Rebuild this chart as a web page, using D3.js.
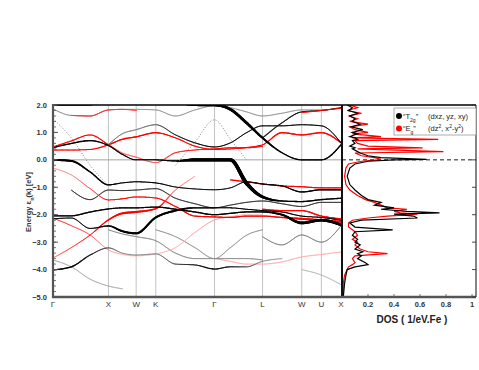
<!DOCTYPE html>
<html><head><meta charset="utf-8">
<script src="https://cdn.jsdelivr.net/npm/d3@7"></script>
<style>body{margin:0;background:#fff}svg{display:block;font-family:Arial,"Liberation Sans",sans-serif}</style>
</head><body>
<svg id="c" width="479" height="370"></svg>
<script>
// ---------- data ----------
const kLabels = ["Γ","X","W","K","Γ","L","W","U","X"];
const kTicks = [0,1,1.5,1.854,2.914,3.780,4.487,4.841,5.195];
const kSamples = [0,0.33,0.67,1,1.25,1.5,1.854,2.21,2.56,2.914,3.2,3.49,3.78,4.13,4.487,4.841,5.195];
const eTicks = [2,1,0,-1,-2,-3,-4,-5];
const dosTicks = [0.2,0.4,0.6,0.8,1];
const _ = null;

// band energies (eV) at kSamples, band weights and strengths
const bandTop  = [2.0,2.0,2.0,2.3,2.5,2.5,2.3,2.1,2.01,2.0,1.84,1.35,0.8,0.26,0.0,0.0,0.55];
const bandTopW = [1.5,1.5,1.5,1,1,1,1,2,3,3,3,3,2.5,1.8,1.8,1.8,2];
const bandGrey = [1.86,1.62,1.6,1.82,1.84,1.84,1.82,1.6,1.82,1.97,1.9,1.75,1.6,1.7,1.82,1.82,1.9];
const bandRedTop = [_,1.62,1.6,1.82,1.84,1.8,_,_,_,_,_,_,_,_,_,_,_];
const bandDot  = [1.5,0.8,-0.2,-0.95,_,_,_,-0.2,0.65,1.46,0.75,0.0,_,_,_,_,_];
const bandMid  = [0.44,0.6,0.7,0.52,0.2,0.0,0.0,-0.04,0.0,0.0,0.0,-0.85,-1.35,-1.5,-1.52,-1.45,-1.4];
const bandMidW = [1.5,2,2,1.5,1.5,1.5,1.5,2,3.5,3.5,3.5,3.8,3,2,2,2,2];
const bandR1   = [0.47,0.69,0.91,0.55,0.25,0.1,-0.1,0.26,0.36,0.4,0.44,0.44,0.5,_,_,_,_];
const bandR1A  = [1,1,1,1,0.6,0.6,0.6,0.8,0.9,1,1,1,1,1,1,1,1];
const bandR2   = [0.36,0.36,0.38,0.55,0.75,0.84,0.99,0.8,0.5,0.38,0.4,0.45,0.55,0.99,0.91,0.99,0.62];
const bandR2W  = [1.5,1.5,1.5,1.8,2,2,2,1.5,1.5,1.5,1.5,1.5,1.5,2,2,2,2];
const bandU    = [_,_,_,0.55,0.95,1.1,1.28,0.91,0.62,0.47,0.62,0.99,1.24,1.24,1.28,1.24,0.62];
const bandUA   = [1,1,1,0.6,0.5,0.5,0.6,0.9,1,1,1,1,1,1,1,1,1];
const bandHi   = [_,_,_,_,_,_,_,_,_,_,_,_,0.8,1.35,1.75,1.8,1.9];
const bandRHi  = [_,_,_,_,_,_,_,_,_,_,_,_,_,_,1.72,1.8,1.88];
const bandA    = [0.0,-0.04,-0.44,-0.91,-0.84,-0.8,-0.84,-0.99,-1.06,-1.09,-1.02,-0.8,-0.88,-0.95,-1.17,-1.09,-1.09];
const bandAW   = [2.5,2.5,2,2,1.5,1.5,1.5,1.2,1.2,1.2,1.2,1.2,1.5,1.5,2,2,2];
const bandB    = [_,-1.1,-1.45,-1.1,-1.12,-1.1,-1.05,-1.4,-1.6,-1.75,-1.65,-1.55,-1.5,-1.6,-1.7,-1.55,-1.55];
const bandRL   = [_,_,_,_,_,_,_,_,_,_,-0.73,-0.8,-0.88,-0.95,-0.98,-1.02,-1.02];
const bandRA   = [-0.3,-0.55,-1.05,-1.46,-1.42,-1.35,-1.39,-1.7,-2.05,-2.08,-2.1,-2.05,-2.05,-2.1,-2.15,-2.2,-2.26];
const bandRAW  = [1,1,1.2,1.5,1.5,1.5,1.5,1.5,1.8,1.8,1.8,1.8,1.8,2,2.5,2.5,2.5];
const bandRAA  = [0.4,0.5,0.7,0.9,1,1,1,1,1,1,1,1,1,1,1,1,1];
const bandC    = [-2.04,-2.04,-1.9,-1.79,-1.75,-1.75,-1.72,-1.8,-1.9,-2.0,-1.95,-1.9,-1.9,-2.0,-2.3,-2.2,-2.37];
const bandCW   = [2,2,2,1.8,1.8,1.8,1.8,2,2,2,2,2,2,2.5,3,3,3];
const bandD    = [-2.15,-2.12,-2.5,-2.41,-2.6,-2.68,-2.1,-1.85,-1.75,-1.75,-1.75,-1.8,-1.85,-1.9,-2.05,-2.1,-2.2];
const bandDW   = [1.3,1.3,1.3,2,2.5,2.5,2.5,2.5,2,1.5,1.5,1.5,1.5,1.5,1.5,1.5,1.5];
const bandRD   = [_,_,_,_,_,_,_,_,_,_,_,_,-1.8,-1.85,-1.85,-2.05,-2.15];
const bandRB   = [-2.12,-2.4,-2.74,-3.28,-3.45,-3.5,-3.43,-3.2,-2.65,-2.19,-2.08,-2.0,-2.0,_,_,_,_];
const bandRBA  = [0.9,0.8,0.7,0.4,0.3,0.3,0.3,0.3,0.35,0.4,0.4,0.3,0.3,0.3,0.3,0.3,0.3];
const bandRC   = [-3.58,-3.2,-2.74,-2.19,-1.95,-1.9,-1.78,-1.1,-0.6,_,_,_,_,_,_,_,_];
const bandRCW  = [1,1,1.3,2,2.5,2.5,2,1.2,1,1,1,1,1,1,1,1,1];
const bandRCA  = [0.6,0.8,0.9,1,1,1,1,0.6,0.4,0.4,0.4,0.4,0.4,0.4,0.4,0.4,0.4];
const bandE    = [-4.01,-3.9,-3.47,-3.21,-3.4,-3.47,-3.43,-3.8,-3.83,-3.98,-3.9,-3.9,-3.7,-3.6,_,_,_];
const bandEW   = [2,2,1.5,1.2,1,1,1,1.3,1.5,1.8,1.5,1.3,1,1,1,1,1];
const bandEA   = [1,1,0.9,0.7,0.5,0.5,0.5,0.7,0.9,1,0.9,0.7,0.5,0.4,0.4,0.4,0.4];
const bandF    = [_,_,_,-2.55,-2.7,-2.8,-2.95,-3.4,-3.6,-3.6,-3.6,-3.6,-3.65,_,_,_,_];
const bandG    = [_,_,_,_,_,_,-2.55,-2.8,-3.2,-3.6,-3.2,-2.75,-2.55,_,_,_,_];
const bandG2   = [_,_,_,_,_,_,_,_,_,_,_,_,-2.8,-3.1,-2.74,-3.0,-2.4];
const bandP    = [_,_,_,_,_,_,_,_,_,-3.6,-3.7,-3.8,-3.8,-3.72,-3.54,-3.45,-3.36];
const bandGL   = [-3.65,-3.9,-4.35,-4.6,-4.7,_,_,_,_,_,_,_,_,_,_,_,_];
const bandGL2  = [_,_,_,_,_,_,_,_,_,_,_,_,_,_,-4.0,-4.2,-4.55];

// DOS (states / eV.Fe) vs energy
const dosE   = [2.0,1.9,1.8,1.7,1.6,1.5,1.4,1.3,1.2,1.1,1.0,0.95,0.85,0.8,0.75,0.7,0.6,0.5,0.44,0.4,0.3,0.25,0.15,0.08,0.02,0.0,-0.05,-0.15,-0.3,-0.6,-0.9,-1.1,-1.3,-1.45,-1.55,-1.65,-1.75,-1.8,-1.88,-1.93,-1.98,-2.05,-2.12,-2.2,-2.3,-2.45,-2.55,-2.62,-2.75,-2.9,-3.0,-3.1,-3.25,-3.35,-3.42,-3.5,-3.6,-3.75,-3.82,-3.9,-4.0,-4.2,-4.5,-5.0];
const dosT2g = [0.04,0.08,0.05,0.12,0.06,0.1,0.08,0.14,0.07,0.16,0.08,0.12,0.06,0.1,0.12,0.08,0.1,0.06,0.1,0.08,0.12,0.14,0.2,0.3,0.65,0.4,0.2,0.1,0.06,0.04,0.06,0.1,0.15,0.2,0.3,0.25,0.4,0.3,0.5,0.75,0.4,0.55,0.58,0.15,0.06,0.1,0.39,0.1,0.08,0.12,0.1,0.14,0.1,0.16,0.12,0.15,0.12,0.18,0.2,0.1,0.04,0.03,0.02,0.01];
const dosEg  = [0.06,0.12,0.04,0.15,0.05,0.12,0.06,0.2,0.06,0.1,0.2,0.08,0.3,0.08,0.74,0.1,0.12,0.2,0.62,0.12,0.78,0.1,0.15,0.25,0.3,0.28,0.15,0.05,0.03,0.02,0.03,0.06,0.12,0.18,0.25,0.3,0.35,0.5,0.4,0.45,0.58,0.35,0.2,0.08,0.05,0.05,0.08,0.1,0.12,0.08,0.12,0.1,0.14,0.2,0.35,0.1,0.08,0.1,0.08,0.05,0.04,0.02,0.01,0.01];

const BLACK = "#000", RED = "#f00";
const bands = [
  {e: bandGL, w: 1, c: BLACK, a: 0.35},
  {e: bandGL2, w: 1, c: BLACK, a: 0.3},
  {e: bandP, w: 1, c: RED, a: 0.35},
  {e: bandF, w: 1, c: BLACK, a: 0.5},
  {e: bandG, w: 1, c: BLACK, a: 0.45},
  {e: bandG2, w: 1, c: BLACK, a: 0.55},
  {e: bandRB, w: 1, c: RED, a: bandRBA},
  {e: bandE, w: bandEW, c: BLACK, a: bandEA},
  {e: bandGrey, w: 1, c: BLACK, a: 0.45},
  {e: bandRedTop, w: 1.2, c: RED, a: 0.8},
  {e: bandB, w: 1.3, c: BLACK, a: 0.8},
  {e: bandRL, w: 1.8, c: RED, a: 1},
  {e: bandRA, w: bandRAW, c: RED, a: bandRAA},
  {e: bandRD, w: 2, c: RED, a: 1},
  {e: bandRC, w: bandRCW, c: RED, a: bandRCA},
  {e: bandD, w: bandDW, c: BLACK, a: 1},
  {e: bandC, w: bandCW, c: BLACK, a: 1},
  {e: bandA, w: bandAW, c: BLACK, a: 1},
  {e: bandR1, w: 1.5, c: RED, a: bandR1A},
  {e: bandR2, w: bandR2W, c: RED, a: 1},
  {e: bandU, w: 1.3, c: BLACK, a: bandUA},
  {e: bandHi, w: 1.5, c: BLACK, a: 0.9},
  {e: bandRHi, w: 1.2, c: RED, a: 1},
  {e: bandMid, w: bandMidW, c: BLACK, a: 1},
  {e: bandTop, w: bandTopW, c: BLACK, a: 1}
];

// ---------- layout ----------
const svg = d3.select("#c");
const L = 53, R = 342, T = 105, B = 297, DR = 476;
const x = d3.scaleLinear().domain([0, 5.195]).range([L, R - 1]);
const y = d3.scaleLinear().domain([-5, 2]).range([B, T]);
const xd = d3.scaleLinear().domain([0, 1]).range([R, 472]);
const strokeOf = d3.scaleLinear().domain([1, 2, 3.5]).range([0.75, 1.3, 3.4]).clamp(false);

const defs = svg.append("defs");
defs.append("clipPath").attr("id","cm").append("rect").attr("x",L).attr("y",T).attr("width",R-L).attr("height",B-T);
defs.append("clipPath").attr("id","cd").append("rect").attr("x",R).attr("y",T).attr("width",DR-R).attr("height",B-T);

// grid
const grid = svg.append("g");
grid.selectAll("line.v").data(kTicks.slice(1,-1)).join("line")
  .attr("x1",d=>x(d)).attr("x2",d=>x(d)).attr("y1",T).attr("y2",B)
  .attr("stroke","#bcbcbc").attr("stroke-width",0.9);
grid.append("line").attr("x1",L).attr("x2",R).attr("y1",y(0)).attr("y2",y(0)).attr("stroke","#9a9a9a").attr("stroke-width",0.9);

// bands
const gb = svg.append("g").attr("clip-path","url(#cm)");
function arr(v,i){ return Array.isArray(v) ? v[i] : v; }
bands.forEach(b => {
  const pts = kSamples.map((k,i)=>({k, e:b.e[i], w:arr(b.w,i), a:arr(b.a,i)}));
  const runs = []; let cur = [];
  pts.forEach(p => { if (p.e == null) { if (cur.length > 1) runs.push(cur); cur = []; } else cur.push(p); });
  if (cur.length > 1) runs.push(cur);
  runs.forEach(run => {
    const line = d3.line().x(p=>x(p.k)).y(p=>y(p.e)).curve(d3.curveMonotoneX);
    const tmp = gb.append("path").attr("d", line(run)).attr("fill","none").attr("stroke","none");
    const node = tmp.node(); const len = node.getTotalLength();
    const xs = run.map(p=>x(p.k));
    const wS = d3.scaleLinear().domain(xs).range(run.map(p=>strokeOf(p.w))).clamp(true);
    const aS = d3.scaleLinear().domain(xs).range(run.map(p=>p.a)).clamp(true);
    const segs = [];
    let prev = node.getPointAtLength(0);
    for (let s = 1.2; s < len + 1.2; s += 1.2) {
      const q = node.getPointAtLength(Math.min(s, len));
      segs.push({x1:prev.x, y1:prev.y, x2:q.x, y2:q.y, m:(prev.x+q.x)/2});
      prev = q;
    }
    tmp.remove();
    gb.append("g").selectAll("line").data(segs).join("line")
      .attr("x1",d=>d.x1).attr("y1",d=>d.y1).attr("x2",d=>d.x2).attr("y2",d=>d.y2)
      .attr("stroke",d=>d3.interpolateRgb("#ffffff", b.c)(aS(d.m)))
      .attr("stroke-width",d=>wS(d.m)).attr("stroke-linecap","round");
  });
});
// dotted band
{
  const pts = kSamples.map((k,i)=>({k, e:bandDot[i]}));
  const line = d3.line().defined(p=>p.e!=null).x(p=>x(p.k)).y(p=>y(p.e)).curve(d3.curveMonotoneX);
  gb.append("path").attr("d", line(pts)).attr("fill","none").attr("stroke","#777")
    .attr("stroke-width",0.9).attr("stroke-dasharray","1,1.8");
}

// DOS
const gd = svg.append("g").attr("clip-path","url(#cd)");
gd.append("line").attr("x1",R).attr("x2",DR).attr("y1",y(0)).attr("y2",y(0))
  .attr("stroke","#000").attr("stroke-width",0.9).attr("stroke-dasharray","4,3");
const dl = (vals) => d3.line().x((d,i)=>xd(vals[i])).y((d,i)=>y(dosE[i]))(dosE);
gd.append("path").attr("d", dl(dosEg)).attr("fill","none").attr("stroke",RED).attr("stroke-width",1.2);
gd.append("path").attr("d", dl(dosT2g)).attr("fill","none").attr("stroke",BLACK).attr("stroke-width",1.2);

// frame
svg.append("line").attr("x1",L).attr("x2",DR).attr("y1",T).attr("y2",T).attr("stroke","#000").attr("stroke-width",1.5);
svg.append("line").attr("x1",DR).attr("x2",DR).attr("y1",T).attr("y2",B).attr("stroke","#333").attr("stroke-width",1.2);
svg.append("line").attr("x1",R).attr("x2",R).attr("y1",T).attr("y2",B).attr("stroke","#111").attr("stroke-width",2);
svg.append("line").attr("x1",L).attr("x2",L).attr("y1",T-1).attr("y2",B+1).attr("stroke","#555").attr("stroke-width",2.2);
svg.append("line").attr("x1",L-1).attr("x2",DR).attr("y1",B).attr("y2",B).attr("stroke","#555").attr("stroke-width",2.4);

// y ticks
const minor = d3.range(-5, 2.001, 0.2);
svg.append("g").selectAll("line").data(minor).join("line")
  .attr("x1",L).attr("x2",L+3).attr("y1",d=>y(d)).attr("y2",d=>y(d)).attr("stroke","#555").attr("stroke-width",0.8);
svg.append("g").selectAll("line").data(eTicks).join("line")
  .attr("x1",L).attr("x2",L+5).attr("y1",d=>y(d)).attr("y2",d=>y(d)).attr("stroke","#555").attr("stroke-width",1);
svg.append("g").selectAll("line").data(eTicks).join("line")
  .attr("x1",DR-4).attr("x2",DR).attr("y1",d=>y(d)).attr("y2",d=>y(d)).attr("stroke","#333").attr("stroke-width",0.9);
svg.append("g").selectAll("text").data(eTicks).join("text")
  .attr("x",L-6).attr("y",d=>y(d)).attr("dy","0.35em").attr("text-anchor","end")
  .attr("font-size",7.5).attr("font-weight","bold").attr("fill","#333")
  .text(d=>d3.format(".1f")(d));

// x labels
svg.append("g").selectAll("text").data(kTicks).join("text")
  .attr("x",(d)=>x(d)).attr("y",307).attr("text-anchor","middle")
  .attr("font-size",8).attr("fill","#333").text((d,i)=>kLabels[i]);
svg.append("g").selectAll("line").data(dosTicks).join("line")
  .attr("x1",d=>xd(d)).attr("x2",d=>xd(d)).attr("y1",B-3).attr("y2",B).attr("stroke","#555").attr("stroke-width",0.8);
svg.append("g").selectAll("text").data(dosTicks).join("text")
  .attr("x",d=>xd(d)).attr("y",307).attr("text-anchor","middle")
  .attr("font-size",7.5).attr("font-weight","bold").attr("fill","#333").text(d=>d3.format("~g")(d));
svg.append("text").attr("x",412).attr("y",323).attr("text-anchor","middle")
  .attr("font-size",10).attr("font-weight","bold").attr("fill","#222").text("DOS ( 1/eV.Fe )");

// y label
const yl = svg.append("text").attr("transform","translate(31,202) rotate(-90)").attr("text-anchor","middle")
  .attr("font-size",7.5).attr("font-weight","bold").attr("fill","#333");
yl.append("tspan").text("Energy  ε");
yl.append("tspan").attr("font-size",5.5).attr("baseline-shift","sub").text("n");
yl.append("tspan").text("(k)  [eV]");

// legend
const lg = svg.append("g");
lg.append("rect").attr("x",394).attr("y",108).attr("width",82).attr("height",27).attr("fill","#fff").attr("stroke","#999").attr("stroke-width",0.8);
const items = [{c:BLACK, a:"“T", s:"2g", b:"”", d:"(dxz, yz, xy)"},{c:RED, a:"“E", s:"g", b:"”", d:null}];
items.forEach((it,i) => {
  const yy = 116 + i*12.5;
  lg.append("circle").attr("cx",399).attr("cy",yy).attr("r",3).attr("fill",it.c);
  const t = lg.append("text").attr("x",403).attr("y",yy).attr("dy","0.35em").attr("font-size",7.5).attr("fill","#222");
  t.append("tspan").text(it.a);
  t.append("tspan").attr("font-size",5).attr("baseline-shift","sub").text(it.s);
  t.append("tspan").text(it.b);
  const t2 = lg.append("text").attr("x",428).attr("y",yy).attr("dy","0.35em").attr("font-size",7.5).attr("fill","#222");
  if (it.d) t2.text(it.d);
  else {
    t2.append("tspan").text("(dz");
    t2.append("tspan").attr("font-size",5).attr("baseline-shift","super").text("2");
    t2.append("tspan").text(", x");
    t2.append("tspan").attr("font-size",5).attr("baseline-shift","super").text("2");
    t2.append("tspan").text("-y");
    t2.append("tspan").attr("font-size",5).attr("baseline-shift","super").text("2");
    t2.append("tspan").text(")");
  }
});
</script>
</body></html>
